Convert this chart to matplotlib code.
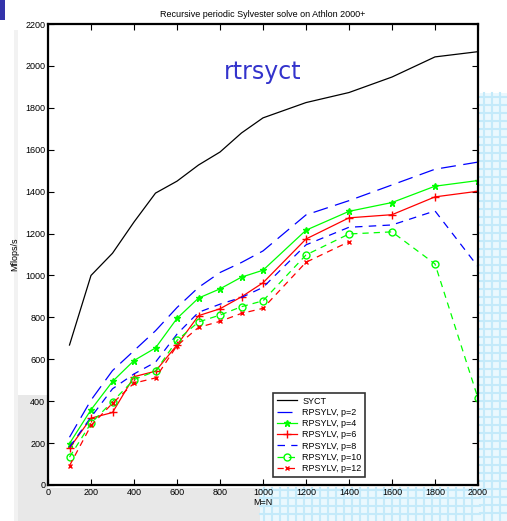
import matplotlib
matplotlib.use("Agg")
import matplotlib.pyplot as plt
from matplotlib.patches import Rectangle
import numpy as np

plt.rcParams['font.family'] = ['Liberation Sans', 'DejaVu Sans']

N = [100, 200, 300, 400, 500, 600, 700, 800, 900, 1000, 1200, 1400, 1600, 1800, 2000]
N12 = [100, 200, 300, 400, 500, 600, 700, 800, 900, 1000, 1200, 1400]

sycct = [668, 1000, 1106, 1255, 1393, 1450, 1527, 1589, 1680, 1752, 1825, 1873, 1947, 2043, 2068]
p2 = [228, 405, 546, 641, 736, 847, 943, 1014, 1062, 1117, 1289, 1357, 1432, 1507, 1541]
p4 = [198, 359, 494, 594, 654, 795, 892, 936, 992, 1025, 1216, 1306, 1348, 1426, 1453]
p6 = [176, 319, 346, 517, 543, 668, 808, 841, 898, 965, 1174, 1275, 1290, 1375, 1402]
p8 = [181, 324, 459, 530, 586, 720, 824, 863, 895, 943, 1146, 1230, 1241, 1308, 1042]
p10 = [133, 295, 398, 503, 543, 690, 778, 811, 851, 879, 1098, 1198, 1208, 1055, 414]
p12 = [92, 284, 390, 486, 511, 665, 752, 781, 819, 843, 1063, 1161]

xticks = [0, 200, 400, 600, 800, 1000, 1200, 1400, 1600, 1800, 2000]
yticks = [0, 200, 400, 600, 800, 1000, 1200, 1400, 1600, 1800, 2000, 2200]

W, H = 507, 521
fig = plt.figure(figsize=(W / 100, H / 100), dpi=100)

# background decorations (slide template)
def fr(x0, y0, x1, y1, **kw):
    return Rectangle((x0 / W, 1 - y1 / H), (x1 - x0) / W, (y1 - y0) / H,
                     transform=fig.transFigure, **kw)

fig.patches.append(fr(18, 395, 48, 521, color='#e8e8e8', zorder=-5, lw=0))
fig.patches.append(fr(14, 30, 18, 521, color='#f2f2f2', zorder=-5, lw=0))
fig.patches.append(fr(18, 488, 260, 521, color='#e8e8e8', zorder=-5, lw=0))
fig.patches.append(fr(480, 93, 507, 521, color='#eaf8fe', zorder=-4, lw=0))
fig.patches.append(fr(260, 488, 507, 521, color='#eaf8fe', zorder=-4, lw=0))
gc = '#c4eafa'
for yy in range(97, 521, 8):
    fig.lines.append(plt.Line2D([480 / W, 1], [1 - yy / H] * 2, transform=fig.transFigure,
                                color=gc, lw=1.5, zorder=-3))
for yy in range(490, 521, 8):
    fig.lines.append(plt.Line2D([260 / W, 480 / W], [1 - yy / H] * 2, transform=fig.transFigure,
                                color=gc, lw=1.5, zorder=-3))
for xx in range(484, 507, 8):
    fig.lines.append(plt.Line2D([xx / W] * 2, [0, 1 - 93 / H], transform=fig.transFigure,
                                color=gc, lw=1.5, zorder=-3))
for xx in range(264, 480, 8):
    fig.lines.append(plt.Line2D([xx / W] * 2, [0, 1 - 488 / H], transform=fig.transFigure,
                                color=gc, lw=1.5, zorder=-3))
fig.patches.append(fr(0, 0, 5, 20, color='#3333aa', zorder=-2, lw=0))

ax = fig.add_axes([48 / W, 1 - 485 / H, 430 / W, 461 / H])
ax.set_xlim(0, 2000)
ax.set_ylim(0, 2200)

lw = 0.9
ax.plot(N, sycct, color='black', lw=lw, label='SYCT')
ax.plot(N, p2, color='blue', lw=lw, dashes=(12, 6), label='RPSYLV, p=2')
ax.plot(N, p4, color='#00ff00', lw=lw, marker='*', ms=5, label='RPSYLV, p=4')
ax.plot(N, p6, color='red', lw=lw, marker='+', ms=6, label='RPSYLV, p=6')
ax.plot(N, p8, color='blue', lw=lw, dashes=(6, 5), label='RPSYLV, p=8')
ax.plot(N, p10, color='#00ff00', lw=lw, dashes=(5, 4), marker='o', ms=5, mfc='none',
        label='RPSYLV, p=10')
ax.plot(N12, p12, color='red', lw=lw, dashes=(5, 4), marker='x', ms=3.5, label='RPSYLV, p=12')

ax.set_xticks(xticks)
ax.set_yticks(yticks)
ax.tick_params(direction='in', top=True, right=True, labelsize=6.5, length=4, width=0.8, pad=2)
for s in ax.spines.values():
    s.set_linewidth(1.6)

ax.set_title('Recursive periodic Sylvester solve on Athlon 2000+', fontsize=6.5, pad=5)
ax.set_xlabel('M=N', fontsize=6.5, labelpad=1)
ax.set_ylabel('Mflops/s', fontsize=6.5, labelpad=4)

ax.text(0.5, 0.895, 'rtrsyct', transform=ax.transAxes, fontsize=17, color='#3333cc',
        ha='center', va='center', family=['DejaVu Sans'])

leg = ax.legend(loc='lower left', bbox_to_anchor=(0.524, 0.018), fontsize=6.5,
                frameon=True, fancybox=False, edgecolor='black', handlelength=2.2,
                borderpad=0.4, labelspacing=0.25, handletextpad=0.6, borderaxespad=0)
leg.get_frame().set_linewidth(1.2)

fig.savefig('out.png', dpi=100)
